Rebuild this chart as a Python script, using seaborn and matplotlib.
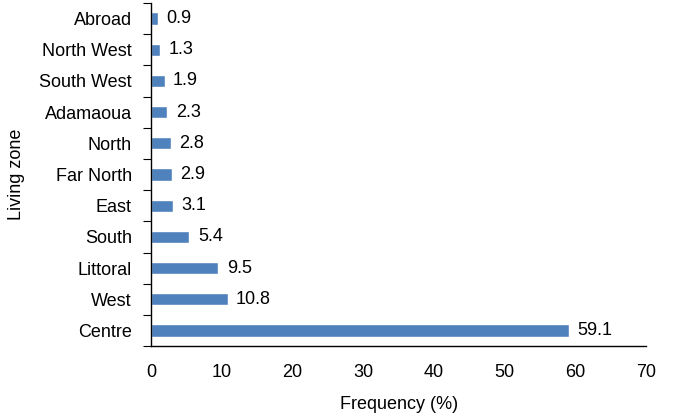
import pandas as pd
import matplotlib.pyplot as plt
import seaborn as sns

zones = ["Abroad", "North West", "South West", "Adamaoua", "North", "Far North",
         "East", "South", "Littoral", "West", "Centre"]
freq = [0.9, 1.3, 1.9, 2.3, 2.8, 2.9, 3.1, 5.4, 9.5, 10.8, 59.1]

data = pd.DataFrame({"zone": zones, "freq": freq})

sns.set_style("white")
plt.rcParams['font.family'] = ['Liberation Sans', 'DejaVu Sans']
plt.rcParams['text.color'] = 'black'
plt.rcParams['axes.labelcolor'] = 'black'
plt.rcParams['xtick.color'] = 'black'
plt.rcParams['ytick.color'] = 'black'

fig, ax = plt.subplots(figsize=(6.75, 4.16), dpi=100)
sns.barplot(data=data, y="zone", x="freq", orient="h", color="#4f81bd",
            saturation=1, width=0.39, ax=ax)

for i, v in enumerate(freq):
    ax.text(v + 1.2, i, f"{v:.1f}", va="center", ha="left", fontsize=13,
            bbox=dict(facecolor="white", edgecolor="none", pad=1.5))

ax.set_xlim(0, 70)
ax.set_ylim(len(zones) - 0.5, -0.5)
ax.set_xticks(range(0, 71, 10))
ax.set_yticks([i for i in range(len(zones))])
ax.set_yticklabels(zones, fontsize=13)
ax.tick_params(axis="x", labelsize=13, direction="in", length=5, width=0.8, pad=13)
ax.tick_params(axis="y", length=0, pad=14)
# category boundary ticks on the left spine
ax.set_yticks([i - 0.5 for i in range(len(zones) + 1)], minor=True)
ax.tick_params(axis="y", which="minor", direction="out", length=6, width=0.8, left=True)

for s in ["top", "right"]:
    ax.spines[s].set_visible(False)
for s in ["left", "bottom"]:
    ax.spines[s].set_color("black")
    ax.spines[s].set_linewidth(1.0)

ax.set_xlabel("Frequency (%)", fontsize=13, labelpad=11)
ax.set_ylabel("Living zone", fontsize=13, labelpad=10)

plt.subplots_adjust(left=0.224, right=0.957, top=0.993, bottom=0.168)
plt.savefig("out.png")
